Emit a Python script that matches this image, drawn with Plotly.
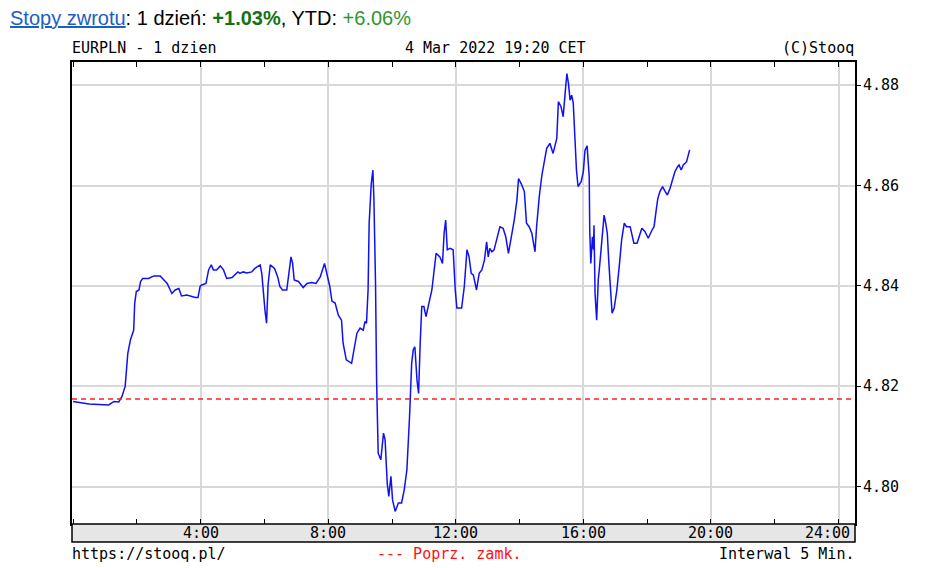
import plotly.graph_objects as go

# minutes since midnight (CET), 4 Mar 2022
minutes = [0, 17, 30, 67, 77, 86, 92, 98, 103, 108, 114, 116, 119, 124, 127, 131, 142, 152, 164, 177,
           186, 192, 199, 204, 214, 230, 235, 239, 242, 250, 255, 260, 264, 270, 277, 283, 289, 299, 305, 310,
           314, 320, 327, 336, 342, 352, 355, 358, 361, 364, 367, 371, 379, 385, 389, 394, 402, 406, 410, 413,
           416, 424, 433, 440, 449, 457, 465, 473, 479, 483, 487, 493, 499, 505, 508, 514, 524, 529, 534, 540,
           546, 549, 552, 555, 557, 561, 564, 566, 569, 571, 574, 579, 584, 587, 591, 594, 598, 601, 606, 612,
           618, 623, 628, 633, 637, 640, 643, 647, 650, 653, 656, 660, 664, 668, 675, 683, 690, 695, 698, 701,
           704, 709, 715, 719, 722, 731, 736, 741, 745, 749, 753, 759, 764, 769, 774, 778, 781, 784, 788, 792,
           797, 803, 809, 814, 819, 824, 830, 835, 838, 843, 849, 853, 858, 863, 869, 872, 877, 882, 887, 891,
           897, 903, 910, 913, 918, 922, 927, 929, 932, 935, 938, 941, 944, 947, 950, 956, 960, 963, 967, 971,
           972, 974, 977, 979, 980, 982, 985, 988, 991, 996, 999, 1002, 1005, 1008, 1011, 1014, 1018, 1023, 1028, 1032,
           1037, 1041, 1048, 1051, 1055, 1061, 1067, 1070, 1076, 1082, 1089, 1093, 1097, 1100, 1104, 1109, 1114, 1118, 1123, 1128,
           1132, 1137, 1140, 1144, 1148, 1154, 1157, 1160]

prices = [4.8170, 4.8167, 4.8165, 4.8163, 4.8170, 4.8169, 4.8180, 4.8200, 4.8266, 4.8293, 4.8312, 4.8366, 4.8389, 4.8392, 4.8409, 4.8415, 4.8415, 4.8420, 4.8420, 4.8405,
          4.8385, 4.8392, 4.8395, 4.8380, 4.8382, 4.8377, 4.8377, 4.8399, 4.8402, 4.8405, 4.8432, 4.8442, 4.8432, 4.8432, 4.8440, 4.8432, 4.8415, 4.8417, 4.8422, 4.8428,
          4.8425, 4.8428, 4.8426, 4.8428, 4.8435, 4.8442, 4.8425, 4.8385, 4.8352, 4.8326, 4.8405, 4.8442, 4.8435, 4.8418, 4.8399, 4.8392, 4.8392, 4.8425, 4.8458, 4.8445,
          4.8412, 4.8409, 4.8397, 4.8405, 4.8407, 4.8405, 4.8418, 4.8445, 4.8418, 4.8399, 4.8370, 4.8366, 4.8342, 4.8332, 4.8286, 4.8253, 4.8246, 4.8273, 4.8306, 4.8316,
          4.8312, 4.8329, 4.8326, 4.8392, 4.8525, 4.8604, 4.8631, 4.8571, 4.8405, 4.8213, 4.8067, 4.8054, 4.8107, 4.8094, 4.8007, 4.7981, 4.8021, 4.7974, 4.7951, 4.7968,
          4.7968, 4.7994, 4.8034, 4.8140, 4.8246, 4.8273, 4.8279, 4.8213, 4.8186, 4.8286, 4.8359, 4.8359, 4.8339, 4.8359, 4.8392, 4.8465, 4.8458, 4.8445, 4.8505, 4.8531,
          4.8472, 4.8475, 4.8472, 4.8392, 4.8356, 4.8356, 4.8399, 4.8472, 4.8458, 4.8425, 4.8422, 4.8392, 4.8425, 4.8432, 4.8452, 4.8488, 4.8458, 4.8475, 4.8468, 4.8472,
          4.8492, 4.8518, 4.8515, 4.8498, 4.8465, 4.8492, 4.8531, 4.8571, 4.8614, 4.8604, 4.8588, 4.8525, 4.8518, 4.8505, 4.8468, 4.8518, 4.8578, 4.8621, 4.8651, 4.8674,
          4.8684, 4.8664, 4.8694, 4.8767, 4.8757, 4.8737, 4.8800, 4.8823, 4.8803, 4.8770, 4.8780, 4.8764, 4.8697, 4.8631, 4.8598, 4.8608, 4.8628, 4.8670, 4.8679, 4.8618,
          4.8511, 4.8445, 4.8498, 4.8472, 4.8521, 4.8385, 4.8332, 4.8412, 4.8445, 4.8511, 4.8541, 4.8525, 4.8505, 4.8445, 4.8385, 4.8346, 4.8356, 4.8392, 4.8445, 4.8492,
          4.8525, 4.8518, 4.8518, 4.8501, 4.8485, 4.8485, 4.8508, 4.8515, 4.8508, 4.8495, 4.8511, 4.8518, 4.8551, 4.8574, 4.8588, 4.8598, 4.8588, 4.8581, 4.8594, 4.8611,
          4.8627, 4.8637, 4.8641, 4.8631, 4.8641, 4.8647, 4.8661, 4.8671]

prev_close = 4.8175

x_tick_vals = [240, 480, 720, 960, 1200, 1440]
x_tick_text = ["4:00", "8:00", "12:00", "16:00", "20:00", "24:00"]
y_tick_vals = [4.80, 4.82, 4.84, 4.86, 4.88]
y_tick_text = ["4.80", "4.82", "4.84", "4.86", "4.88"]

MONO = "DejaVu Sans Mono"
FS = 15
PLOT_H = 462

fig = go.Figure()
fig.add_trace(go.Scatter(x=minutes, y=prices, mode="lines",
                         line=dict(color="#1010f5", width=1.5), hoverinfo="skip"))

# page body has an 8px margin: figure is 921x558 placed at (8, 8)
fig.update_layout(
    width=921, height=558,
    margin=dict(l=64, r=74, t=54, b=42),
    paper_bgcolor="white", plot_bgcolor="white",
    showlegend=False,
    xaxis=dict(range=[-2, 1471], tickvals=x_tick_vals, showticklabels=False,
               ticks="inside", ticklen=5, tickwidth=1.3, tickcolor="black",
               showgrid=True, gridcolor="#d8d8d8", gridwidth=1.5,
               minor=dict(dtick=120, tick0=0, ticks="inside", ticklen=5, tickwidth=1.3,
                          tickcolor="black", showgrid=False),
               showline=True, linecolor="black", linewidth=1.5, mirror="allticks",
               zeroline=False, fixedrange=True),
    yaxis=dict(range=[4.7926, 4.8846], side="right", tickvals=y_tick_vals, showticklabels=False,
               ticks="outside", ticklen=4, tickwidth=1.3, tickcolor="black",
               showgrid=True, gridcolor="#d8d8d8", gridwidth=1.5,
               showline=True, linecolor="black", linewidth=1.5, mirror=True,
               zeroline=False, fixedrange=True),
)

# gray time band under the plot
band = 18 / PLOT_H
fig.add_shape(type="rect", xref="paper", yref="paper", x0=0, x1=1, y0=-band, y1=0,
              fillcolor="#e6e6e6", line=dict(color="black", width=1.5))
# previous close
fig.add_shape(type="line", xref="paper", yref="y", x0=0, x1=1, y0=prev_close, y1=prev_close,
              line=dict(color="#ff2020", width=1.5, dash="5px,4px"), layer="above")

mono_font = dict(family=MONO, size=FS, color="black")
for v, t in zip(x_tick_vals, x_tick_text):
    if v == 1440:
        fig.add_annotation(x=1, xref="paper", xshift=-3, xanchor="right", y=0, yref="paper",
                           yshift=-9, yanchor="middle", text=t, showarrow=False, font=mono_font)
    else:
        fig.add_annotation(x=v, xref="x", xanchor="center", y=0, yref="paper",
                           yshift=-9, yanchor="middle", text=t, showarrow=False, font=mono_font)

for v, t in zip(y_tick_vals, y_tick_text):
    fig.add_annotation(x=1, xref="paper", xshift=6, xanchor="left", y=v, yref="y",
                       yanchor="middle", text=t, showarrow=False, font=mono_font)

def note(text, x, xshift, xanchor, y, yshift, color="black"):
    fig.add_annotation(x=x, xref="paper", xshift=xshift, xanchor=xanchor, y=y, yref="paper",
                       yshift=yshift, yanchor="middle", text=text, showarrow=False,
                       font=dict(family=MONO, size=FS, color=color))

note("EURPLN - 1 dzien", 0, -2, "left", 1, 14)
note("4 Mar 2022 19:20 CET", 0, 331, "left", 1, 14)
note("(C)Stooq", 1, 1, "right", 1, 14)
note("https://stooq.pl/", 0, -2, "left", 0, -30)
note("--- Poprz. zamk.", 0, 303, "left", 0, -30, color="#ff1010")
note("Interwal 5 Min.", 1, 1, "right", 0, -30)

header = ("<span style='color:#1a5fc4'><u>Stopy zwrotu</u></span>: 1 dzień: "
          "<b><span style='color:#137313'>+1.03%</span></b>, YTD: "
          "<span style='color:#2e962e'>+6.06%</span>")
fig.add_annotation(x=0, xref="paper", xshift=-64, xanchor="left", y=1, yref="paper", yshift=44,
                   yanchor="middle", text=header, showarrow=False,
                   font=dict(family="Liberation Sans", size=20, color="black"))

fig.write_html("out.html")
